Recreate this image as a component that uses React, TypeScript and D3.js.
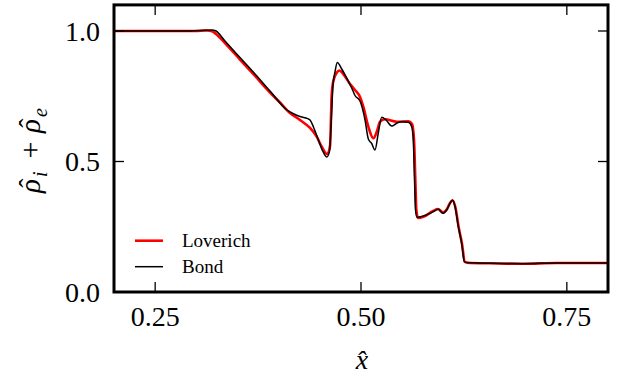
import React from "react";
import * as d3 from "d3";

const bondX = [0.2, 0.2923, 0.3105, 0.319, 0.3239, 0.3348, 0.353, 0.3713, 0.3895, 0.4101, 0.4174, 0.4259, 0.4332, 0.4381, 0.4421, 0.4478, 0.4539, 0.4584, 0.4618, 0.4642, 0.466, 0.4684, 0.4712, 0.4766, 0.4826, 0.4887, 0.4927, 0.4988, 0.5049, 0.5089, 0.513, 0.517, 0.521, 0.5252, 0.5304, 0.5373, 0.5434, 0.5494, 0.5575, 0.5616, 0.5635, 0.565, 0.5662, 0.568, 0.5757, 0.5878, 0.5939, 0.5992, 0.6041, 0.6081, 0.6109, 0.6142, 0.6182, 0.6223, 0.6255, 0.6288, 0.6567, 0.6968, 0.7377, 0.8];
const bondY = [1.0, 1.0, 1.0027, 1.004, 1.0, 0.9617, 0.8985, 0.8352, 0.7701, 0.6973, 0.6839, 0.6724, 0.6667, 0.659, 0.6333, 0.5862, 0.5375, 0.5172, 0.54, 0.678, 0.793, 0.843, 0.8793, 0.8544, 0.8199, 0.7816, 0.7529, 0.7318, 0.659, 0.5862, 0.569, 0.544, 0.609, 0.6693, 0.659, 0.636, 0.6464, 0.6525, 0.6502, 0.6333, 0.5824, 0.429, 0.314, 0.2862, 0.2912, 0.3077, 0.3169, 0.3015, 0.3142, 0.3398, 0.3525, 0.3268, 0.2502, 0.1866, 0.1169, 0.113, 0.11, 0.1084, 0.1111, 0.1111];

const loverichX = [0.2, 0.2984, 0.313, 0.319, 0.3239, 0.3348, 0.353, 0.3713, 0.3895, 0.4016, 0.4138, 0.4259, 0.4381, 0.4462, 0.4523, 0.4587, 0.4624, 0.4644, 0.4664, 0.4705, 0.4737, 0.4785, 0.4867, 0.4927, 0.4988, 0.5028, 0.5089, 0.515, 0.5199, 0.5231, 0.5292, 0.5434, 0.5575, 0.562, 0.5644, 0.566, 0.5672, 0.5693, 0.5765, 0.5875, 0.5935, 0.5997, 0.6045, 0.6081, 0.6112, 0.6146, 0.6186, 0.6227, 0.6261, 0.6288, 0.6567, 0.6968, 0.7377, 0.8];
const loverichY = [1.0, 1.0, 1.0019, 0.9989, 0.9885, 0.954, 0.8908, 0.8276, 0.7644, 0.7261, 0.6858, 0.659, 0.6284, 0.595, 0.5567, 0.5287, 0.5594, 0.7548, 0.8084, 0.8402, 0.8487, 0.8352, 0.7969, 0.7739, 0.7471, 0.71, 0.6333, 0.5889, 0.6207, 0.6525, 0.6617, 0.6525, 0.654, 0.6437, 0.5824, 0.4291, 0.3142, 0.2835, 0.2893, 0.3103, 0.318, 0.3046, 0.318, 0.341, 0.3506, 0.3257, 0.249, 0.1839, 0.1149, 0.1123, 0.11, 0.1084, 0.1111, 0.1111];

const xTicks = [0.25, 0.5, 0.75];
const xTickLabels = ["0.25", "0.50", "0.75"];
const yTicks = [0.0, 0.5, 1.0];
const yTickLabels = ["0.0", "0.5", "1.0"];
const seriesNames = ["Loverich", "Bond"];

const W = 623, H = 376;
const L = 114, R = 608, T = 4.9, B = 292;

export default function App() {
  const x = d3.scaleLinear().domain([0.2, 0.8]).range([L, R]);
  const y = d3.scaleLinear().domain([0, 1.1]).range([B, T]);
  const line = d3
    .line<[number, number]>()
    .x((d) => x(d[0]))
    .y((d) => y(d[1]))
    .curve(d3.curveMonotoneX);
  const bond = bondX.map((v, i) => [v, bondY[i]] as [number, number]);
  const lov = loverichX.map((v, i) => [v, loverichY[i]] as [number, number]);
  const font = "'Liberation Serif', 'DejaVu Serif', serif";
  const tick = 10;
  return (
    <svg width={W} height={H} style={{ position: "absolute", left: 0, top: 0, background: "#fff" }} fontFamily={font}>
      <defs>
        <clipPath id="clip">
          <rect x={L} y={T} width={R - L} height={B - T} />
        </clipPath>
      </defs>
      <g clipPath="url(#clip)">
        <path d={line(lov) || ""} fill="none" stroke="#ff0000" strokeWidth={2.6} strokeLinejoin="round" />
        <path d={line(bond) || ""} fill="none" stroke="#000" strokeWidth={1.5} strokeLinejoin="round" />
      </g>
      {xTicks.map((t, i) => (
        <g key={"xt" + i}>
          <line x1={x(t)} x2={x(t)} y1={B} y2={B - tick} stroke="#000" strokeWidth={1.3} />
          <line x1={x(t)} x2={x(t)} y1={T} y2={T + tick} stroke="#000" strokeWidth={1.3} />
          <text x={x(t)} y={326} textAnchor="middle" fontSize={28}>{xTickLabels[i]}</text>
        </g>
      ))}
      {yTicks.map((t, i) => (
        <g key={"yt" + i}>
          <line x1={L} x2={L + tick} y1={y(t)} y2={y(t)} stroke="#000" strokeWidth={1.3} />
          <line x1={R} x2={R - tick} y1={y(t)} y2={y(t)} stroke="#000" strokeWidth={1.3} />
          <text x={100} y={y(t) + 9.5} textAnchor="end" fontSize={28}>{yTickLabels[i]}</text>
        </g>
      ))}
      <rect x={L} y={T} width={R - L} height={B - T} fill="none" stroke="#000" strokeWidth={3} />
      <g>
        <line x1={135} x2={163} y1={240.7} y2={240.7} stroke="#ff0000" strokeWidth={2.6} />
        <text x={182} y={247} fontSize={19}>{seriesNames[0]}</text>
        <line x1={135} x2={163} y1={266.7} y2={266.7} stroke="#000" strokeWidth={1.5} />
        <text x={182} y={273} fontSize={19}>{seriesNames[1]}</text>
      </g>
      <text x={362} y={369} textAnchor="middle" fontSize={28} fontStyle="italic">x̂</text>
      <g transform="translate(40,150) rotate(-90)" fontSize={29} fontStyle="italic">
        <text x={-43} y={0}>ρ</text>
        <text x={-33} y={-2} textAnchor="middle" fontStyle="normal" fontSize={28}>ˆ</text>
        <text x={-27} y={7} fontSize={20}>i</text>
        <text x={0} y={0} textAnchor="middle" fontStyle="normal" fontSize={30}>+</text>
        <text x={17} y={0}>ρ</text>
        <text x={27} y={-2} textAnchor="middle" fontStyle="normal" fontSize={28}>ˆ</text>
        <text x={33} y={7} fontSize={20}>e</text>
      </g>
    </svg>
  );
}
